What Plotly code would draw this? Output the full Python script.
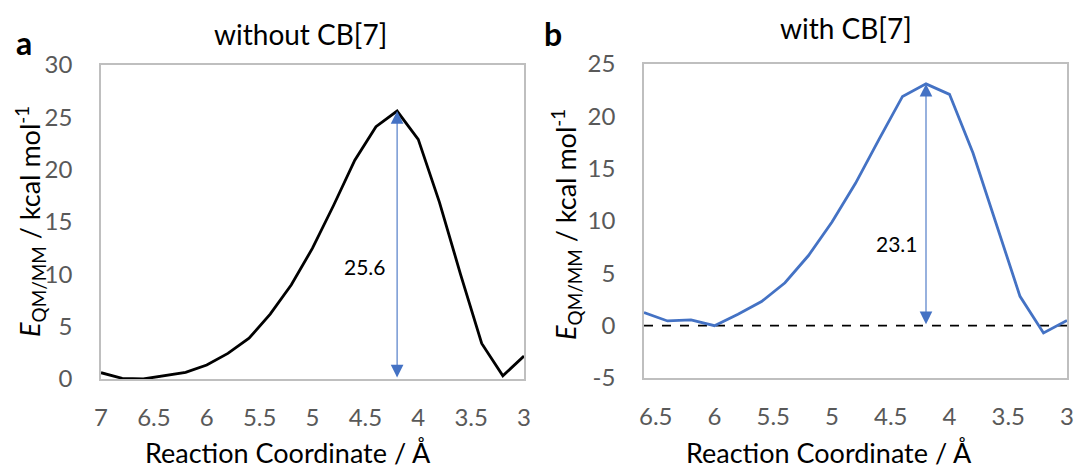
import plotly.graph_objects as go

# ---------------- data ----------------
coord_a = [7.0, 6.8, 6.6, 6.4, 6.2, 6.0, 5.8, 5.6, 5.4, 5.2, 5.0,
           4.8, 4.6, 4.4, 4.2, 4.0, 3.8, 3.6, 3.4, 3.2, 3.0]
energy_a = [0.6, 0.06, 0.0, 0.3, 0.64, 1.34, 2.45, 3.9, 6.2, 9.0, 12.5,
            16.6, 20.9, 24.1, 25.6, 22.9, 16.9, 10.0, 3.4, 0.3, 2.2]

coord_b = [6.6, 6.4, 6.2, 6.0, 5.8, 5.6, 5.4, 5.2, 5.0,
           4.8, 4.6, 4.4, 4.2, 4.0, 3.8, 3.6, 3.4, 3.2, 3.0]
energy_b = [1.25, 0.45, 0.55, 0.0, 1.1, 2.3, 4.1, 6.7, 9.9,
            13.6, 17.8, 21.9, 23.1, 22.1, 16.5, 9.7, 2.8, -0.7, 0.5]

baseline = 0.0
titles = ["without CB[7]", "with CB[7]"]
panel_labels = ["a", "b"]
xtick_a = [7, 6.5, 6, 5.5, 5, 4.5, 4, 3.5, 3]
xtick_b = [6.5, 6, 5.5, 5, 4.5, 4, 3.5, 3]
ytick_a = [0, 5, 10, 15, 20, 25, 30]
ytick_b = [-5, 0, 5, 10, 15, 20, 25]
x_title = "Reaction Coordinate / Å"
y_title = "<i>E</i><sub>QM/MM</sub> / kcal mol<sup>-1</sup>"

# ---------------- style ----------------
FONT = "Lato"
BLUE = "#4472C4"
GRID = "#BFBFBF"
TICK = "#595959"
W, H = 1075, 470

fig = go.Figure()
fig.add_trace(go.Scatter(x=coord_a, y=energy_a, mode="lines",
                         line=dict(color="black", width=2.8),
                         xaxis="x", yaxis="y", showlegend=False, hoverinfo="skip"))
fig.add_trace(go.Scatter(x=[coord_b[0], coord_b[-1]], y=[baseline, baseline], mode="lines",
                         line=dict(color="black", width=1.6, dash="dash"),
                         xaxis="x2", yaxis="y2", showlegend=False, hoverinfo="skip"))
fig.add_trace(go.Scatter(x=coord_b, y=energy_b, mode="lines",
                         line=dict(color=BLUE, width=2.8),
                         xaxis="x2", yaxis="y2", showlegend=False, hoverinfo="skip"))

common_x = dict(showline=True, mirror=True, linecolor=GRID, linewidth=1.5,
                showgrid=False, zeroline=False, ticks="", automargin=False,
                tickfont=dict(family=FONT, size=24, color=TICK),
                ticklabelstandoff=16)
common_y = dict(showline=True, mirror=True, linecolor=GRID, linewidth=1.5,
                showgrid=False, zeroline=False, ticks="", automargin=False,
                tickfont=dict(family=FONT, size=24, color=TICK),
                ticklabelstandoff=22)

fig.update_layout(
    width=W, height=H, autosize=False,
    margin=dict(l=0, r=0, t=0, b=0, pad=0),
    paper_bgcolor="white", plot_bgcolor="white",
    font=dict(family=FONT, color="black"),
    xaxis=dict(domain=[101 / W, 524 / W], range=[coord_a[0], coord_a[-1]],
               tickvals=xtick_a, ticktext=[f"{v:g}" for v in xtick_a], anchor="y", **common_x),
    yaxis=dict(domain=[1 - 379 / H, 1 - 65 / H], range=[ytick_a[0], ytick_a[-1]],
               tickvals=ytick_a, ticktext=[f"{v:g}" for v in ytick_a], anchor="x", **common_y),
    xaxis2=dict(domain=[644 / W, 1067 / W], range=[coord_b[0], coord_b[-1]],
                tickvals=xtick_b, ticktext=[f"{v:g}" for v in xtick_b], anchor="y2", **common_x),
    yaxis2=dict(domain=[1 - 378 / H, 1 - 64 / H], range=[ytick_b[0], ytick_b[-1]],
                tickvals=ytick_b, ticktext=[f"{v:g}" for v in ytick_b], anchor="x2", **common_y),
)

ann = []
# barrier arrows and labels
for xs, ys, xr, yr, frac, shift in [(coord_a, energy_a, "x", "y", 0.42, -9),
                                    (coord_b, energy_b, "x2", "y2", 0.34, -6)]:
    i = max(range(len(ys)), key=lambda k: ys[k])
    px, top = xs[i], ys[i]
    ann.append(dict(x=px, y=top, ax=px, ay=baseline, xref=xr, yref=yr, axref=xr, ayref=yr,
                    text="", showarrow=True, arrowhead=2, startarrowhead=2, arrowside="end+start",
                    arrowsize=2.3, startarrowsize=2.3, arrowwidth=1.1, arrowcolor=BLUE,
                    standoff=0, startstandoff=0))
    ann.append(dict(x=px, y=baseline + frac * (top - baseline), xref=xr, yref=yr,
                    text=f"{top - baseline:.1f}", showarrow=False, xanchor="right",
                    xshift=shift, font=dict(family=FONT, size=21, color="black")))

# titles
ann.append(dict(x=300 / W, y=1 - 34 / H, xref="paper", yref="paper", text=titles[0],
                showarrow=False, xanchor="center", yanchor="middle",
                font=dict(family=FONT, size=28, color="black")))
ann.append(dict(x=846 / W, y=1 - 28 / H, xref="paper", yref="paper", text=titles[1],
                showarrow=False, xanchor="center", yanchor="middle",
                font=dict(family=FONT, size=28, color="black")))
# panel letters
ann.append(dict(x=24 / W, y=1 - 42 / H, xref="paper", yref="paper", text=f"<b>{panel_labels[0]}</b>",
                showarrow=False, xanchor="center", yanchor="middle",
                font=dict(family=FONT, size=32, color="black")))
ann.append(dict(x=553 / W, y=1 - 33 / H, xref="paper", yref="paper", text=f"<b>{panel_labels[1]}</b>",
                showarrow=False, xanchor="center", yanchor="middle",
                font=dict(family=FONT, size=32, color="black")))
# axis titles
for cx in (288, 829):
    ann.append(dict(x=cx / W, y=1 - 452 / H, xref="paper", yref="paper", text=x_title,
                    showarrow=False, xanchor="center", yanchor="middle",
                    font=dict(family=FONT, size=27, color="black")))
for cx, cy in ((30, 222), (566, 225)):
    ann.append(dict(x=cx / W, y=1 - cy / H, xref="paper", yref="paper", text=y_title,
                    showarrow=False, textangle=-90, xanchor="center", yanchor="middle",
                    font=dict(family=FONT, size=27, color="black")))

fig.update_layout(annotations=ann)
fig.write_html("out.html", config={"displayModeBar": False},
               post_script="document.body.style.margin='0';document.body.style.overflow='hidden';")
